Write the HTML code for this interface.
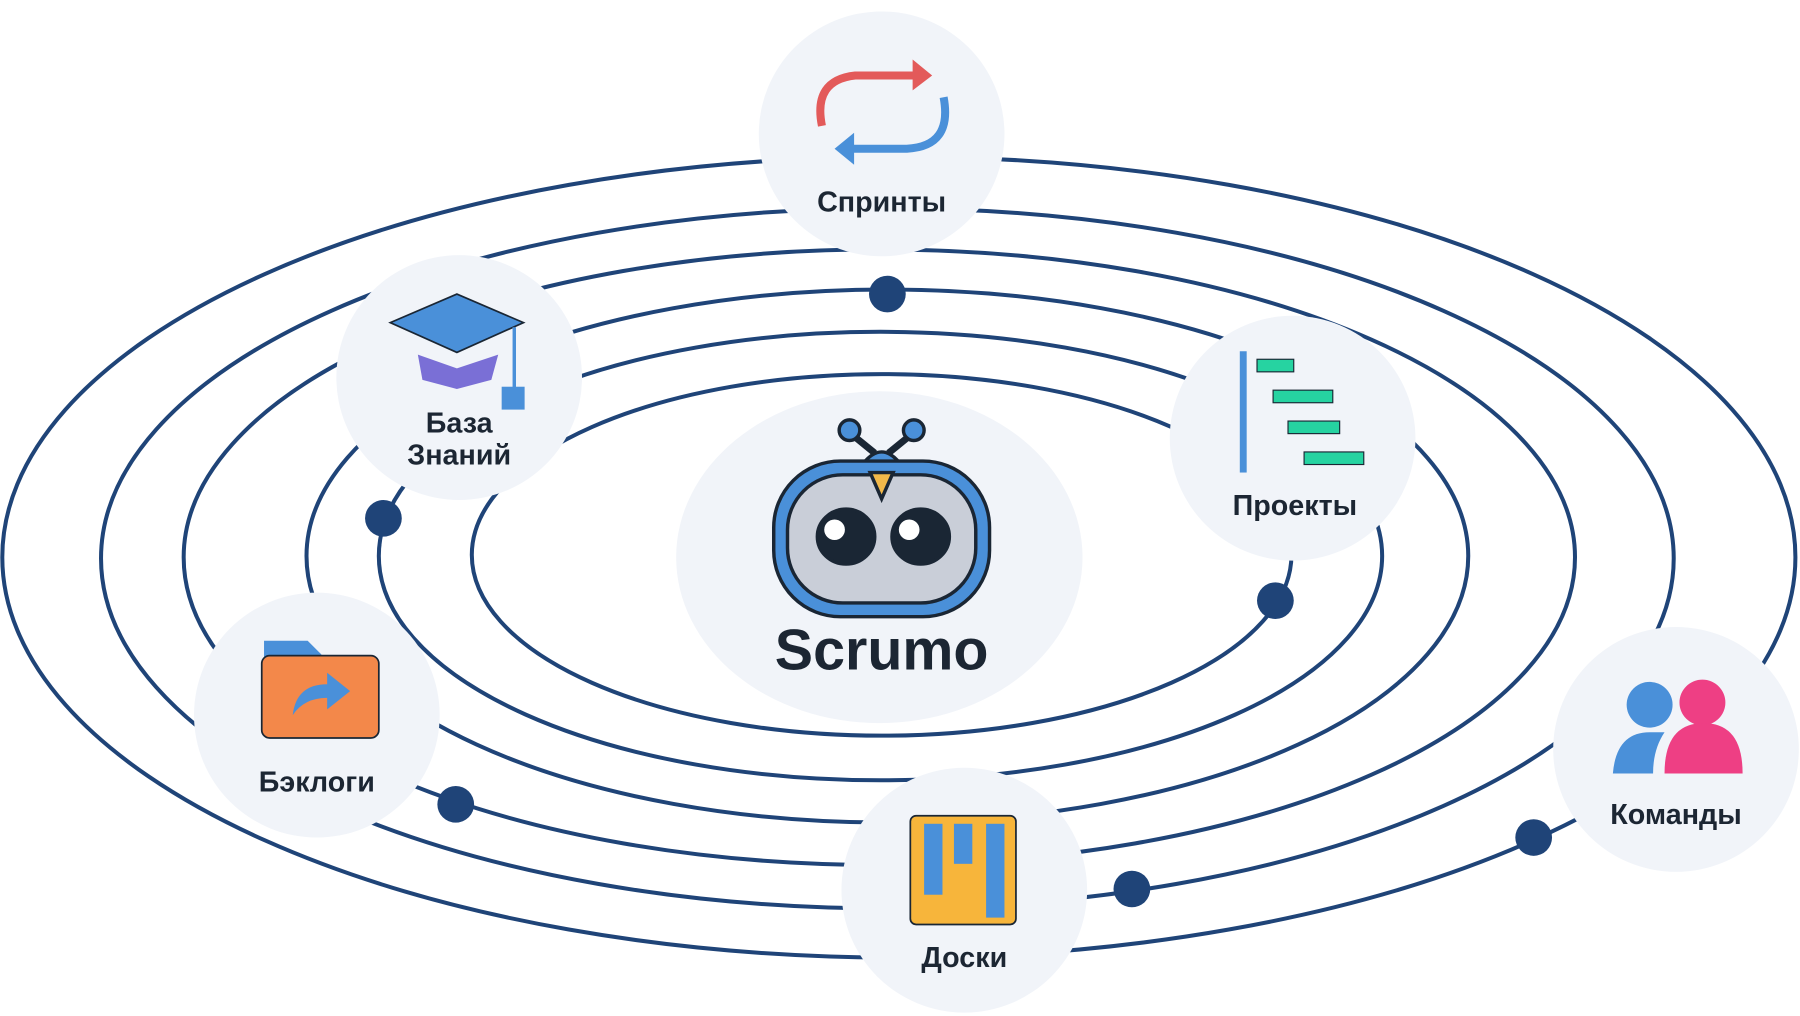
<!DOCTYPE html>
<html><head><meta charset="utf-8"><style>
html,body{margin:0;padding:0;background:#fff;}
svg{display:block;}
text{font-family:"Liberation Sans","DejaVu Sans",sans-serif;font-weight:bold;fill:#1c2633;text-anchor:middle;}
</style></head><body>
<svg width="1800" height="1016" viewBox="0 0 1568 888" preserveAspectRatio="none" xmlns="http://www.w3.org/2000/svg">
<g fill="none" stroke="#1f4478" stroke-width="3.5">
<ellipse cx="768" cy="485" rx="357" ry="158"/>
<ellipse cx="767" cy="486" rx="437" ry="196"/>
<ellipse cx="773" cy="486" rx="506" ry="233"/>
<ellipse cx="766" cy="487" rx="606" ry="269"/>
<ellipse cx="773" cy="488" rx="685" ry="306"/>
<ellipse cx="783" cy="487" rx="781" ry="350"/>
</g>
<g fill="#1f4478">
<circle cx="773" cy="257" r="16"/><circle cx="334" cy="453" r="16"/><circle cx="1111" cy="525" r="16"/>
<circle cx="397" cy="703" r="16"/><circle cx="986" cy="777" r="16"/><circle cx="1336" cy="732" r="16"/>
</g>
<g fill="#f1f4f9">
<ellipse cx="766" cy="487" rx="177" ry="145"/>
<circle cx="768" cy="117" r="107"/><circle cx="400" cy="330" r="107"/><circle cx="1126" cy="383" r="107"/>
<circle cx="276" cy="625" r="107"/><circle cx="840" cy="778" r="107"/><circle cx="1460" cy="655" r="107"/>
</g>
<!-- robot -->
<g stroke="#1a2634" stroke-width="3">
<line x1="740" y1="378" x2="762" y2="396" stroke-width="6"/><line x1="796" y1="378" x2="774" y2="396" stroke-width="6"/>
<circle cx="740" cy="376" r="9" fill="#4a90d9"/><circle cx="796" cy="376" r="9" fill="#4a90d9"/>
<path d="M752 405 Q768 385 784 405Z" fill="#4a90d9"/>
<rect x="674" y="403" width="188" height="136" rx="58" fill="#4a90d9"/>
<rect x="686" y="415" width="164" height="112" rx="48" fill="#c9ced8"/>
<path d="M758 413 L778 413 L768 436Z" fill="#f2b94a"/>
<ellipse cx="737" cy="469" rx="25" ry="24" fill="#1a2634"/><ellipse cx="802" cy="469" rx="25" ry="24" fill="#1a2634"/>
</g>
<circle cx="727" cy="463" r="9" fill="#fff"/><circle cx="792" cy="463" r="9" fill="#fff"/>
<text x="768" y="585" font-size="50" fill="#1a2634">Scrumo</text>
<!-- sprint icon -->
<path d="M716 110 Q708 70 745 66 L800 66" fill="none" stroke="#e35a5a" stroke-width="7"/>
<path d="M795 52 L812 66 L795 79Z" fill="#e35a5a"/>
<path d="M822 85 Q830 128 790 130 L740 130" fill="none" stroke="#4a90d9" stroke-width="7"/>
<path d="M744 116 L727 130 L744 144Z" fill="#4a90d9"/>
<text x="768" y="185" font-size="25">Спринты</text>
<!-- cap -->
<path d="M340 282 L398 257 L456 282 L398 308Z" fill="#4a90d9" stroke="#1a2634" stroke-width="1.5"/>
<path d="M364 310 L398 322 L434 310 L428 332 L398 340 L368 332Z" fill="#7a6fd6"/>
<line x1="448" y1="286" x2="448" y2="340" stroke="#4a90d9" stroke-width="3"/>
<rect x="437" y="338" width="20" height="20" fill="#4a90d9"/>
<text x="400" y="378" font-size="25">База</text>
<text x="400" y="406" font-size="25">Знаний</text>
<!-- projects -->
<rect x="1080" y="307" width="6" height="106" fill="#4a90d9"/>
<g fill="#26d3a1" stroke="#1a2634" stroke-width="1"><rect x="1095" y="314" width="32" height="11"/><rect x="1109" y="341" width="52" height="11"/><rect x="1122" y="368" width="45" height="11"/><rect x="1136" y="395" width="52" height="11"/></g>
<text x="1128" y="450" font-size="25">Проекты</text>
<!-- backlog -->
<path d="M230 560 L268 560 L280 572 L280 590 L230 590Z" fill="#4a90d9"/>
<rect x="228" y="573" width="102" height="72" rx="7" fill="#f3884a" stroke="#1a2634" stroke-width="1.5"/>
<path d="M255 625 Q258 598 285 598 L285 588 L305 604 L285 620 L285 610 Q265 610 255 625Z" fill="#4a90d9"/>
<text x="276" y="692" font-size="25">Бэклоги</text>
<!-- boards -->
<rect x="793" y="713" width="92" height="95" rx="5" fill="#f7b53b" stroke="#1a2634" stroke-width="1.5"/>
<rect x="805" y="720" width="16" height="62" fill="#4a90d9"/><rect x="831" y="720" width="16" height="35" fill="#4a90d9"/><rect x="859" y="720" width="16" height="82" fill="#4a90d9"/>
<text x="840" y="845" font-size="25">Доски</text>
<!-- team -->
<circle cx="1437" cy="616" r="20" fill="#4a90d9"/><circle cx="1483" cy="614" r="20" fill="#ee3f84"/>
<path d="M1405 676 Q1408 640 1437 640 L1450 640 Q1440 655 1440 676Z" fill="#4a90d9"/>
<path d="M1450 676 Q1450 632 1484 632 Q1518 632 1518 676Z" fill="#ee3f84"/>
<text x="1460" y="720" font-size="25">Команды</text>
</svg>
</body></html>
